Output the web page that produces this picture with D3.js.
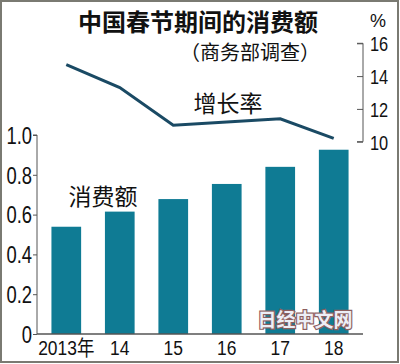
<!DOCTYPE html>
<html><head><meta charset="utf-8">
<script src="https://cdn.jsdelivr.net/npm/d3@7"></script>
<style>body{margin:0;background:#fff}svg{display:block}text{font-family:"Liberation Sans","Noto Sans CJK SC",sans-serif}.cjk{font-family:"Noto Sans CJK SC",sans-serif}</style>
</head><body>
<script>
const years = ["2013年","14","15","16","17","18"];
const spending = [0.539,0.615,0.678,0.754,0.840,0.926];
const growth = [14.7,13.3,11.0,11.2,11.4,10.2];
const leftTicks = [0,0.2,0.4,0.6,0.8,1.0];
const rightTicks = [10,12,14,16];

const W=400,H=364;
const svg=d3.select("body").append("svg").attr("width",W).attr("height",H);
svg.append("rect").attr("x",1).attr("y",1).attr("width",397).attr("height",361)
  .attr("fill","#fff").attr("stroke","#7a7a72").attr("stroke-width",2);

const x=d3.scaleBand().domain(years).range([37,363]).paddingInner(0.445).paddingOuter(0.27);
const y=d3.scaleLinear().domain([0,1]).range([334,135]);
const y2=d3.scaleLinear().domain([10,16]).range([141.7,43.3]);

// bars
svg.selectAll(".bar").data(spending).join("rect")
  .attr("x",(d,i)=>x(years[i])).attr("width",x.bandwidth())
  .attr("y",d=>y(d)).attr("height",d=>y(0)-y(d))
  .attr("fill","#0f7b94");

// left axis
const sxL=0.8;
const la=svg.append("g").attr("transform","translate(37,0)")
  .call(d3.axisLeft(y).tickValues(leftTicks).tickFormat(d=>d===0?"0":d3.format(".1f")(d)).tickSize(4).tickPadding(3));
la.select(".domain").attr("stroke","#555").attr("d","M-4,135H0V334");
la.selectAll(".tick line").attr("stroke","#555");
la.selectAll(".tick text").attr("font-size",23).attr("fill","#111").attr("dy","0.36em")
  .attr("x",-5/sxL).attr("transform",`scale(${sxL},1)`);

// baseline
svg.append("line").attr("x1",37).attr("x2",363).attr("y1",334).attr("y2",334).attr("stroke","#555").attr("stroke-width",1.3);

// x labels
const sxX=0.83;
svg.append("g").attr("transform",`scale(${sxX},1)`).selectAll("text").data(years).join("text")
  .attr("x",d=>(x(d)+x.bandwidth()/2)/sxX).attr("y",355)
  .attr("text-anchor","middle").attr("font-size",21).attr("fill","#111")
  .text(d=>d);

// right axis
const sxR=0.78;
const ra=svg.append("g").attr("transform","translate(363,0)")
  .call(d3.axisRight(y2).tickValues(rightTicks).tickFormat(d3.format("d")).tickSize(-6).tickPadding(5));
ra.select(".domain").attr("stroke","#555").attr("d","M-6,43.3H0V141.7H-6");
ra.selectAll(".tick line").attr("stroke","#555");
ra.selectAll(".tick text").attr("font-size",21).attr("fill","#111").attr("x",7/sxR).attr("dy","0.36em")
  .attr("transform",`scale(${sxR},1)`);
svg.append("text").attr("x",378).attr("y",27).attr("text-anchor","middle").attr("font-size",18).attr("fill","#111").text("%");

// line
const line=d3.line().x((d,i)=>x(years[i])+x.bandwidth()/2).y(d=>y2(d));
svg.append("path").datum(growth).attr("d",line).attr("fill","none")
  .attr("stroke","#1a4a64").attr("stroke-width",3);

// titles
svg.append("text").attr("class","cjk").attr("x",198).attr("y",31).attr("text-anchor","middle")
  .attr("font-size",24).attr("font-weight","bold").attr("fill","#111").text("中国春节期间的消费额");
svg.append("text").attr("class","cjk").attr("x",250).attr("y",60).attr("text-anchor","middle")
  .attr("font-size",20).attr("fill","#111").text("（商务部调查）");
svg.append("text").attr("class","cjk").attr("x",228).attr("y",112).attr("text-anchor","middle")
  .attr("font-size",23).attr("fill","#111").text("增长率");
svg.append("text").attr("class","cjk").attr("x",103).attr("y",205).attr("text-anchor","middle")
  .attr("font-size",23).attr("fill","#111").text("消费额");

// watermark
svg.append("text").attr("class","cjk").attr("x",305).attr("y",327).attr("text-anchor","middle")
  .attr("font-size",19).attr("font-weight","bold").attr("fill","#eceef6")
  .attr("stroke","#8d5f5f").attr("stroke-width",2.4).attr("paint-order","stroke")
  .text("日经中文网");
</script>
</body></html>
